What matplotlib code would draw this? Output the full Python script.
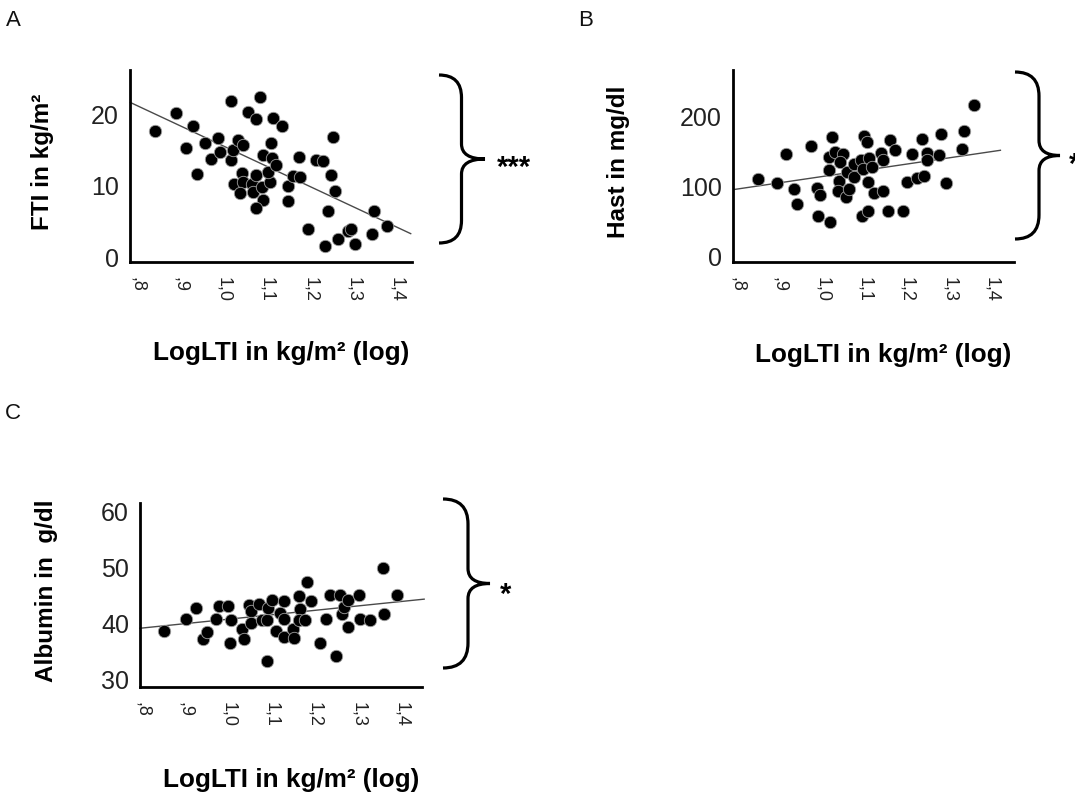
import numpy as np
import matplotlib
matplotlib.use("Agg")
from matplotlib import pyplot as plt
from matplotlib.path import Path
from matplotlib.patches import PathPatch

W, H = 1075, 798

# A: FTI contro LogLTI
loglti_a = [0.842, 0.890, 0.930, 0.913, 0.939, 0.957, 0.972, 0.988, 0.992, 1.018,
            1.018, 1.021, 1.034, 1.045, 1.042, 1.024, 1.045, 1.039, 1.057, 1.076,
            1.084, 1.065, 1.076, 1.067, 1.088, 1.090, 1.076, 1.107, 1.103, 1.090,
            1.109, 1.111, 1.122, 1.115, 1.134, 1.149, 1.148, 1.161, 1.176, 1.175,
            1.195, 1.213, 1.230, 1.253, 1.247, 1.258, 1.242, 1.234, 1.265, 1.288,
            1.295, 1.303, 1.342, 1.347, 1.378]
fti = [17.7, 20.2, 18.4, 15.3, 11.7, 16.0, 13.8, 16.7, 14.7, 21.9,
       13.6, 15.1, 16.5, 15.8, 11.8, 10.3, 10.6, 9.0, 20.4, 19.4,
       22.5, 10.2, 11.6, 9.1, 9.8, 8.0, 6.9, 10.5, 11.9, 14.4,
       16.1, 13.9, 12.9, 19.6, 18.4, 10.0, 7.9, 11.4, 11.3, 14.0,
       3.9, 13.6, 13.5, 16.9, 11.5, 9.3, 6.5, 1.6, 2.6, 3.6,
       4.0, 1.8, 3.2, 6.5, 4.3]

# B: Hast contro LogLTI
loglti_b = [0.850, 0.893, 0.915, 0.934, 0.940, 0.973, 0.987, 0.994, 0.991, 1.019,
            1.023, 1.017, 1.031, 1.050, 1.042, 1.015, 1.040, 1.037, 1.056, 1.064,
            1.058, 1.074, 1.075, 1.091, 1.096, 1.099, 1.105, 1.111, 1.117, 1.107,
            1.093, 1.107, 1.121, 1.143, 1.138, 1.144, 1.161, 1.172, 1.154, 1.190,
            1.199, 1.211, 1.223, 1.240, 1.235, 1.248, 1.248, 1.276, 1.279, 1.292,
            1.329, 1.334, 1.358]
hast = [110.8, 104.7, 146.2, 96.2, 75.0, 157.5, 98.6, 88.2, 58.5, 49.5,
        170.8, 142.5, 149.5, 147.2, 135.4, 124.5, 108.5, 93.9, 85.8, 96.2,
        121.2, 132.1, 113.2, 137.7, 125.9, 173.1, 163.7, 141.5, 128.3, 107.1,
        57.5, 65.6, 91.5, 93.9, 148.1, 138.7, 167.0, 152.8, 64.6, 64.6,
        106.1, 146.2, 111.8, 115.6, 168.4, 148.1, 137.7, 144.8, 175.5, 105.7,
        153.3, 180.2, 217.0]

# C: Albumin contro LogLTI
loglti_c = [0.850, 0.901, 0.924, 0.939, 0.950, 0.970, 0.978, 0.999, 1.004, 1.003,
            1.030, 1.035, 1.047, 1.052, 1.052, 1.071, 1.077, 1.088, 1.090, 1.100,
            1.088, 1.110, 1.119, 1.127, 1.127, 1.129, 1.148, 1.152, 1.162, 1.166,
            1.162, 1.177, 1.182, 1.190, 1.212, 1.226, 1.235, 1.249, 1.258, 1.262,
            1.266, 1.276, 1.276, 1.303, 1.305, 1.327, 1.359, 1.357, 1.390]
albumin = [38.6, 40.8, 42.7, 37.2, 38.5, 40.7, 43.1, 43.0, 40.5, 36.5,
           38.9, 37.1, 43.2, 42.1, 40.1, 43.5, 40.6, 40.5, 42.7, 44.2,
           33.3, 38.6, 41.8, 40.7, 37.6, 44.0, 38.9, 37.3, 44.9, 42.5,
           40.6, 40.5, 47.3, 43.9, 36.4, 40.8, 45.1, 34.2, 45.1, 41.7,
           42.9, 44.2, 39.3, 45.1, 40.7, 40.6, 41.7, 49.8, 45.1]

# rette di regressione: (pendenza, intercetta, x inizio, x fine)
retta_a = (-28.5, 44.1, 0.785, 1.432)
retta_b = (89.3, 25.2, 0.792, 1.420)
retta_c = (7.9, 32.83, 0.794, 1.453)

xticks = [0.8, 0.9, 1.0, 1.1, 1.2, 1.3, 1.4]
xtick_labels = [",8", ",9", "1,0", "1,1", "1,2", "1,3", "1,4"]

FONT = ["Liberation Sans", "DejaVu Sans"]
NARROW = ["Liberation Sans Narrow", "Liberation Sans", "DejaVu Sans"]


def fx(x):
    return x / W


def fy(y):
    return 1 - y / H


def testo(fig, x, y, s, **kw):
    fig.text(fx(x), fy(y), s, family=FONT, ha="center", va="center", **kw)


def graffa(fig, x0, xs, xt, y0, y1):
    # parentesi graffa disegnata in pixel
    ym = (y0 + y1) / 2
    r = xs - x0
    pts = [(x0, y0), (xs, y0), (xs, y0 + r), (xs, ym - 15), (xs, ym), (xt, ym),
           (xs, ym), (xs, ym + 15), (xs, y1 - r), (xs, y1), (x0, y1)]
    codes = [Path.MOVETO, Path.CURVE3, Path.CURVE3, Path.LINETO, Path.CURVE3, Path.CURVE3,
             Path.CURVE3, Path.CURVE3, Path.LINETO, Path.CURVE3, Path.CURVE3]
    p = Path([(fx(a), fy(b)) for a, b in pts], codes)
    fig.patches.append(PathPatch(p, transform=fig.transFigure, fill=False,
                                 lw=2.3, color="black", capstyle="butt"))


def pannello(fig, box, x, y, retta, xlim, ylim, yticks, ylabel, ylab_x, xlab_y):
    left, right, top, bottom = box
    ax = fig.add_axes([fx(left), fy(bottom), (right - left) / W, (bottom - top) / H])
    ax.scatter(x, y, s=80, color="black", edgecolors="#a0a0a0", linewidths=0.6, zorder=3)
    b, a, t0, t1 = retta
    t = np.linspace(t0, t1, 50)
    ax.plot(t, b * t + a, color="#4a4a4a", lw=1.0, zorder=2, clip_on=False)

    ax.set_xlim(*xlim)
    ax.set_ylim(*ylim)
    ax.set_xticks(xticks)
    ax.set_xticklabels(xtick_labels, rotation=-90, family=FONT, fontsize=13, color="#222222")
    ax.set_yticks(yticks)
    ax.set_yticklabels([str(v) for v in yticks], family=NARROW, fontsize=18, color="#222222")
    ax.tick_params(axis="x", length=0, pad=11)
    ax.tick_params(axis="y", length=0, pad=8)
    for s in ["top", "right"]:
        ax.spines[s].set_visible(False)
    for s in ["left", "bottom"]:
        ax.spines[s].set_linewidth(2)

    testo(fig, ylab_x, (top + bottom) / 2 - 4, ylabel, rotation=90,
          fontsize=17.5, weight="bold")
    testo(fig, (left + right) / 2 + 10, xlab_y, "LogLTI in kg/m² (log)",
          fontsize=18.8, weight="bold")
    return ax


fig = plt.figure(figsize=(W / 100, H / 100), dpi=100)

pannello(fig, (130, 412, 70, 262), loglti_a, fti, retta_a,
         (0.784, 1.435), (-0.7, 26.3), [0, 10, 20], "FTI in kg/m²", 43, 353)
pannello(fig, (733, 1014, 70, 262), loglti_b, hast, retta_b,
         (0.790, 1.452), (-7.6, 266.7), [0, 100, 200], "Hast in mg/dl", 618, 355)
pannello(fig, (140, 422, 503, 687), loglti_c, albumin, retta_c,
         (0.794, 1.448), (28.6, 61.5), [30, 40, 50, 60], "Albumin in  g/dl", 47, 780)

graffa(fig, 439, 461.5, 485, 75, 243)
graffa(fig, 1015, 1039, 1060, 72, 239)
graffa(fig, 443, 468, 490, 499, 668)

fig.text(fx(514), fy(176), "***", family=FONT, fontsize=21, weight="bold",
         ha="center", va="baseline")
fig.text(fx(1069), fy(173), "*", family=FONT, fontsize=21, weight="bold",
         ha="left", va="baseline")
fig.text(fx(506), fy(603), "*", family=FONT, fontsize=21, weight="bold",
         ha="center", va="baseline")

for lettera, x, y in [("A", 13, 21), ("B", 586, 21), ("C", 13, 413)]:
    fig.text(fx(x), fy(y), lettera, family=NARROW,
             fontsize=16, ha="center", va="center", color="#111111")

plt.savefig("out.png", dpi=100)
